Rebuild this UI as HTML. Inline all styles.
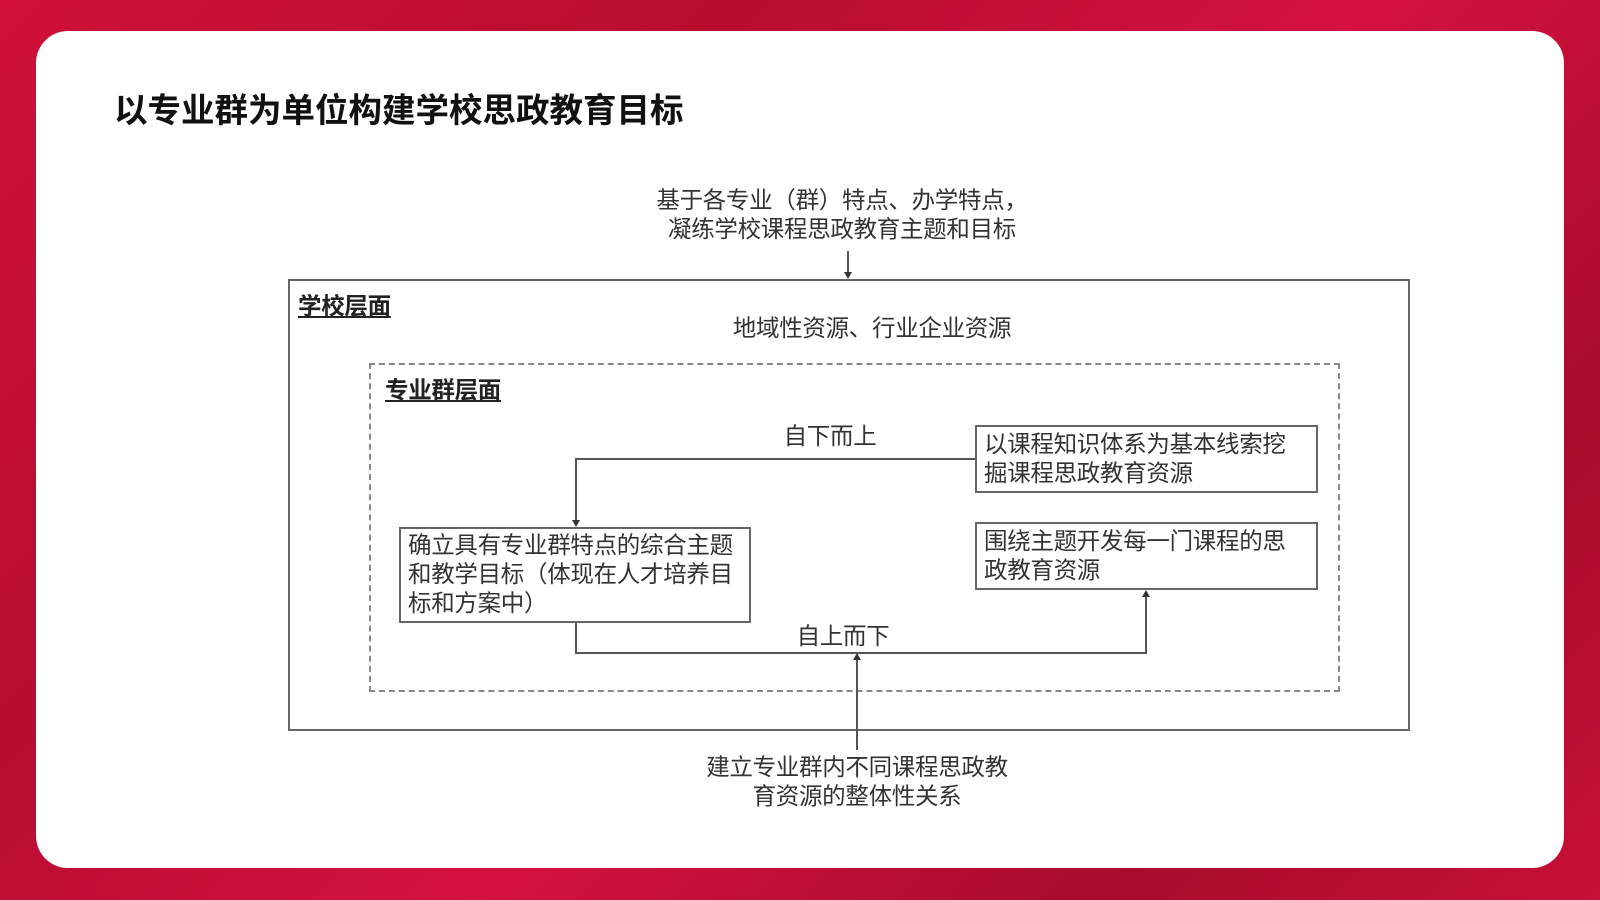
<!DOCTYPE html>
<html><head><meta charset="utf-8"><style>
body{margin:0;width:1600px;height:900px;overflow:hidden;font-family:"Liberation Sans","Noto Sans CJK SC",sans-serif;
background:linear-gradient(135deg,#d0103a 0%,#b80d30 30%,#d41140 55%,#a80c2c 80%,#c81038 100%);position:relative}
.card{position:absolute;left:36px;top:31px;width:1528px;height:837px;background:#fff;border-radius:32px}
.a{position:absolute;white-space:nowrap;color:#333;font-size:23.5px;line-height:29px;letter-spacing:-0.3px}
.c{transform:translateX(-50%);text-align:center}
.box{position:absolute;border:2px solid #666;box-sizing:border-box;background:#fff}
.u{font-weight:bold;text-decoration:underline;color:#222;font-size:23.5px}
</style></head><body>
<div class="card"></div>
<div class="a" style="left:114px;top:92px;font-size:33.5px;line-height:40px;font-weight:bold;color:#111;letter-spacing:0">以专业群为单位构建学校思政教育目标</div>
<div class="a c" style="left:842px;top:186px">基于各专业（群）特点、办学特点，<br>凝练学校课程思政教育主题和目标</div>
<div class="box" style="left:288px;top:279px;width:1122px;height:452px"></div>
<div class="box" style="left:369px;top:363px;width:971px;height:329px;border:2px dashed #888"></div>
<div class="a u" style="left:298px;top:292px">学校层面</div>
<div class="a c" style="left:872px;top:314px">地域性资源、行业企业资源</div>
<div class="a u" style="left:385px;top:376px">专业群层面</div>
<div class="a c" style="left:830px;top:422px">自下而上</div>
<div class="a c" style="left:843px;top:622px">自上而下</div>
<svg width="1600" height="900" style="position:absolute;left:0;top:0">
<g stroke="#555" stroke-width="2" fill="none">
<line x1="848" y1="251" x2="848" y2="274"/>
<polyline points="975,459 576,459 576,522"/>
<polyline points="576,622 576,653 1146,653 1146,595"/>
<line x1="857" y1="750" x2="857" y2="658"/>
</g>
<g fill="#333">
<polygon points="844,272 852,272 848,279"/>
<polygon points="572,520 580,520 576,527"/>
<polygon points="1142,597 1150,597 1146,590"/>
<polygon points="853,660 861,660 857,653"/>
</g>
</svg>
<div class="box" style="left:399px;top:527px;width:352px;height:96px"></div>
<div class="a" style="left:408px;top:531px">确立具有专业群特点的综合主题<br>和教学目标（体现在人才培养目<br>标和方案中）</div>
<div class="box" style="left:975px;top:425px;width:343px;height:68px"></div>
<div class="a" style="left:984px;top:430px">以课程知识体系为基本线索挖<br>掘课程思政教育资源</div>
<div class="box" style="left:975px;top:522px;width:343px;height:68px"></div>
<div class="a" style="left:984px;top:527px">围绕主题开发每一门课程的思<br>政教育资源</div>
<div class="a c" style="left:857px;top:753px">建立专业群内不同课程思政教<br>育资源的整体性关系</div>
</body></html>
